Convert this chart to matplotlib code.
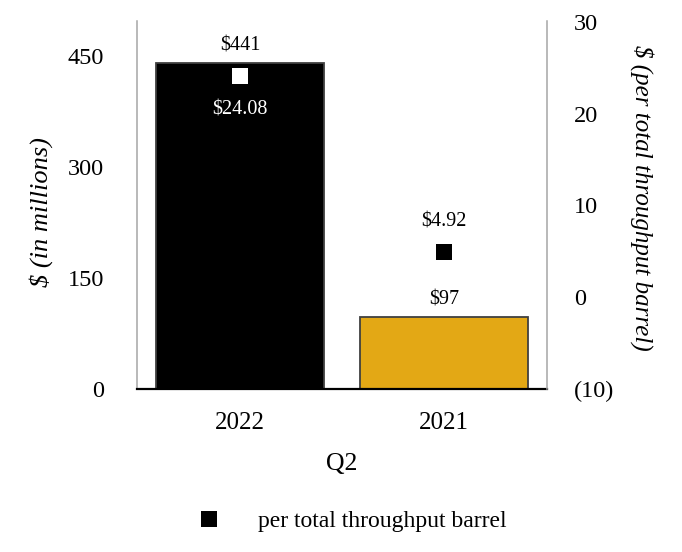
import matplotlib
matplotlib.use('Agg')
import matplotlib.pyplot as plt
from matplotlib.lines import Line2D

plt.rcParams['font.family'] = 'Liberation Serif'

# ── Data ──
categories = ['2022', '2021']
ebitda_millions = [441, 97]
per_barrel = [24.08, 4.92]
bar_labels = ['$441', '$97']
barrel_labels = ['$24.08', '$4.92']
left_ticks = [0, 150, 300, 450]
right_ticks = [-10, 0, 10, 20, 30]
right_tick_labels = ['(10)', '0', '10', '20', '30']

BAR_COLORS = ['#000000', '#E3A815']
MARKER_COLORS = ['#FFFFFF', '#000000']
SPINE_GRAY = '#A6A6A6'

fig = plt.figure(figsize=(6.82, 5.52), dpi=100)
ax1 = fig.add_axes([0.2009, 0.2953, 0.6012, 0.6667])
ax2 = ax1.twinx()

x = list(range(len(categories)))

# bars on left axis
ax1.bar(x, ebitda_millions, width=0.826, color=BAR_COLORS,
        edgecolor='#404040', linewidth=1.3, zorder=2)
for xi, v, lab in zip(x, ebitda_millions, bar_labels):
    ax1.annotate(lab, (xi, v), xytext=(0, 12.5), textcoords='offset points',
                 ha='center', va='center', fontsize=14.5, color='black')

ax1.set_xlim(-0.506, 1.506)
ax1.set_ylim(0, 498)
ax1.set_yticks(left_ticks)
ax1.set_yticklabels([str(t) for t in left_ticks])
ax1.set_xticks(x)
ax1.set_xticklabels(categories)
ax1.tick_params(axis='y', length=0, pad=23.5, labelsize=17.5)
ax1.tick_params(axis='x', length=0, pad=16.5, labelsize=18)
ax1.set_xlabel('Q2', fontsize=18.5, labelpad=14)
ax1.set_ylabel('$ (in millions)', fontsize=19, style='italic')
ax1.yaxis.set_label_coords(-0.204, 0.48)

for s in ['top', 'right']:
    ax1.spines[s].set_visible(False)
ax1.spines['left'].set_color(SPINE_GRAY)
ax1.spines['left'].set_linewidth(1.1)
ax1.spines['bottom'].set_color('black')
ax1.spines['bottom'].set_linewidth(1.6)
ax1.spines['bottom'].set_zorder(5)

# markers on right axis
offsets = [-24.5, 21.5]
for xi, v, lab, mc, off in zip(x, per_barrel, barrel_labels, MARKER_COLORS, offsets):
    ax2.plot([xi], [v], marker='s', markersize=11.5, color=mc,
             markeredgewidth=0, linestyle='none', zorder=4)
    ax2.annotate(lab, (xi, v), xytext=(0, off), textcoords='offset points',
                 ha='center', va='center', fontsize=14.5,
                 color='white' if mc == '#FFFFFF' else 'black')

ax2.set_ylim(-10, 30.1)
ax2.set_yticks(right_ticks)
ax2.set_yticklabels(right_tick_labels)
ax2.tick_params(axis='y', length=0, pad=19.5, labelsize=17.5)
for lbl in ax2.get_yticklabels():
    lbl.set_horizontalalignment('left')
ax2.set_ylabel('$ (per total throughput barrel)', fontsize=18, style='italic',
               rotation=270)
ax2.yaxis.set_label_coords(1.26, 0.52)
for s in ['top', 'left', 'bottom']:
    ax2.spines[s].set_visible(False)
ax2.spines['right'].set_color(SPINE_GRAY)
ax2.spines['right'].set_linewidth(1.1)

# legend
handle = Line2D([], [], marker='s', color='black', markersize=11,
                markeredgewidth=0, linestyle='none')
fig.legend([handle], ['per total throughput barrel'], loc='center',
           bbox_to_anchor=(0.516, 0.055), frameon=False, fontsize=17,
           handlelength=1.0, handletextpad=1.55)

fig.savefig('out.png', dpi=100)
